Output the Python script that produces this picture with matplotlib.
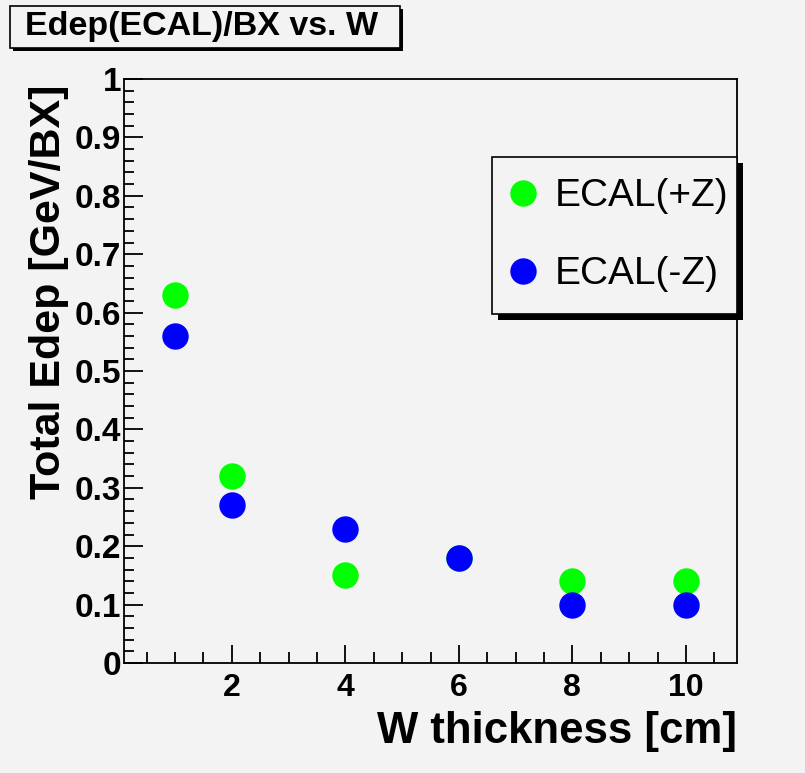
import matplotlib
matplotlib.use('Agg')
import matplotlib.pyplot as plt
from matplotlib.patches import Rectangle
from matplotlib.ticker import MultipleLocator, FormatStrFormatter

plt.rcParams['font.family'] = 'Liberation Sans'

# W thickness [cm] and deposited energy per bunch crossing
w_thick = [1, 2, 4, 6, 8, 10]
edep_plus = [0.63, 0.32, 0.15, 0.18, 0.14, 0.14]
edep_minus = [0.56, 0.27, 0.23, 0.18, 0.10, 0.10]

bg = '#f3f3f3'
W, H = 805, 773
fig = plt.figure(figsize=(W / 100, H / 100), dpi=100, facecolor=bg)
ax = fig.add_axes([124 / W, 1 - 663 / H, 613 / W, 584 / H])
ax.set_facecolor(bg)

ax.plot(w_thick, edep_plus, 'o', color='#00ff00', mec='#00ff00', ms=18, label='ECAL(+Z)')
ax.plot(w_thick, edep_minus, 'o', color='#0000ff', mec='#0000ff', ms=18, label='ECAL(-Z)')

ax.set_xlim(0.1, 10.9)
ax.set_ylim(0, 1)
ax.xaxis.set_major_locator(MultipleLocator(2))
ax.xaxis.set_minor_locator(MultipleLocator(0.5))
ax.yaxis.set_major_locator(MultipleLocator(0.1))
ax.yaxis.set_minor_locator(MultipleLocator(0.02))
ax.yaxis.set_major_formatter(FormatStrFormatter('%g'))

ax.tick_params(which='both', direction='in', top=False, right=False, width=1.3)
ax.tick_params(axis='x', which='major', length=13, labelsize=23, pad=7)
ax.tick_params(axis='x', which='minor', length=8)
ax.tick_params(axis='y', which='major', length=14, labelsize=24, pad=2)
ax.tick_params(axis='y', which='minor', length=7)
for lbl in ax.get_xticklabels() + ax.get_yticklabels():
    lbl.set_fontweight('bold')
for s in ax.spines.values():
    s.set_linewidth(1.3)

ax.set_xlabel('W thickness [cm]', fontsize=31.5, fontweight='bold', loc='right', labelpad=6)
ax.set_ylabel('Total Edep [GeV/BX]', fontsize=31, fontweight='bold', loc='top')
ax.yaxis.set_label_coords(-0.09, 0.99)

leg = ax.legend(loc='upper left', bbox_to_anchor=(492 / W, 1 - 157 / H, 245 / W, 0),
                bbox_transform=fig.transFigure, mode='expand', fontsize=28, frameon=True,
                fancybox=False, framealpha=1, facecolor=bg, edgecolor='black',
                borderpad=0.55, labelspacing=1.08, handlelength=0.49,
                handletextpad=0.58, borderaxespad=0)
leg.get_frame().set_linewidth(1.2)

# shadow of the legend box
fig.canvas.draw()
bb = leg.get_window_extent().transformed(fig.transFigure.inverted())
ax.add_patch(Rectangle((bb.x0 + 6 / W, bb.y0 - 6 / H), bb.width, bb.height,
                       transform=fig.transFigure, facecolor='black',
                       edgecolor='none', clip_on=False, zorder=4.9))

# title box with shadow
fig.add_artist(Rectangle((13 / W, 1 - 51 / H), 390 / W, 42 / H, transform=fig.transFigure,
                         facecolor='black', edgecolor='none'))
fig.add_artist(Rectangle((10 / W, 1 - 48 / H), 390 / W, 42 / H, transform=fig.transFigure,
                         facecolor=bg, edgecolor='black', linewidth=1.2))
fig.text(202 / W, 1 - 27 / H, 'Edep(ECAL)/BX vs. W', fontsize=24.5, fontweight='bold',
         ha='center', va='center')

fig.savefig('out.png', dpi=100, facecolor=bg)
